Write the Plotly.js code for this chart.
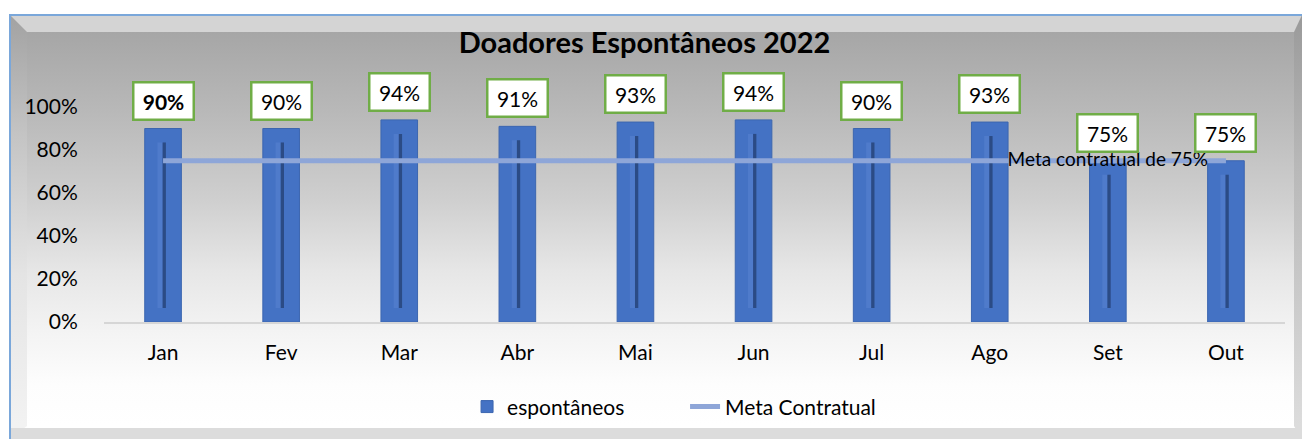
<!DOCTYPE html>
<html>
<head>
<meta charset="utf-8">
<script src="https://cdn.plot.ly/plotly-3.0.1.min.js"></script>
<style>
  html, body { margin: 0; padding: 0; background: #ffffff; }
  #wrap { position: relative; width: 1302px; height: 439px; overflow: hidden; }
  .fr { position: absolute; }
  #bg { left: 10px; top: 15px; width: 1292px; height: 424px;
        background: linear-gradient(to bottom, #a6a6a6 17px, #b8b8b8 95px, #cfcfcf 185px, #e6e6e6 255px, #f3f3f3 315px, #fdfdfd 370px, #ffffff 410px); }
  #bTop { left: 10px; top: 15px; width: 1292px; height: 17px; background: #d4d4d4; }
  #bLeft { left: 10px; top: 15px; width: 17px; height: 424px;
        background: linear-gradient(to bottom, #a2a2a2 0px, #c4c4c4 120px, #e4e4e4 260px, #f2f2f2 410px); 
        clip-path: polygon(0 0, 100% 17px, 100% 411px, 0 100%); }
  #bRight { left: 1294px; top: 15px; width: 8px; height: 424px;
        background: linear-gradient(to bottom, #9a9a9a 0px, #b8b8b8 150px, #dcdcdc 410px);
        clip-path: polygon(100% 0, 0 17px, 0 411px, 100% 100%); }
  #bBot { left: 10px; top: 428px; width: 1292px; height: 11px; background: #dcdcdc; }
  #lineTop { left: 10px; top: 14px; width: 1292px; height: 2px; background: #7aa7da; }
  #lineLeft { left: 9px; top: 14px; width: 2px; height: 425px; background: #7aa7da; }
  #chart { position: absolute; left: 0; top: 0; width: 1302px; height: 439px; }
</style>
</head>
<body>
<div id="wrap">
  <div class="fr" id="bg"></div>
  <div class="fr" id="bTop"></div>
  <div class="fr" id="bLeft"></div>
  <div class="fr" id="bRight"></div>
  <div class="fr" id="bBot"></div>
  <div class="fr" id="lineTop"></div>
  <div class="fr" id="lineLeft"></div>
  <div id="chart"></div>
</div>
<script>
const months = ['Jan', 'Fev', 'Mar', 'Abr', 'Mai', 'Jun', 'Jul', 'Ago', 'Set', 'Out'];
const espontaneos = [0.90, 0.90, 0.94, 0.91, 0.93, 0.94, 0.90, 0.93, 0.75, 0.75];
const metaContratual = [0.75, 0.75, 0.75, 0.75, 0.75, 0.75, 0.75, 0.75, 0.75, 0.75];
const metaLabel = ['', '', '', '', '', '', '', '', 'Meta contratual de 75%', ''];
const boldLabels = [true, false, false, false, false, false, false, false, false, false];
const yTicks = [0, 0.2, 0.4, 0.6, 0.8, 1.0];

const FONT = 'Lato, "Open Sans", sans-serif';
const BLUE = '#4472c4';

const bars = {
  type: 'bar', name: 'espontâneos', x: months, y: espontaneos, width: 0.31,
  marker: { color: BLUE, line: { color: '#3c66b0', width: 1 } },
  hoverinfo: 'x+y'
};
const grooveLight = {
  type: 'bar', x: months, y: espontaneos.map(v => v - 0.13), base: 0.065,
  width: 0.045, offset: -0.047, showlegend: false, hoverinfo: 'skip',
  marker: { color: '#4f7bcb', line: { width: 0 } }
};
const grooveDark = {
  type: 'bar', x: months, y: espontaneos.map(v => v - 0.13), base: 0.065,
  width: 0.028, offset: -0.004, showlegend: false, hoverinfo: 'skip',
  marker: { color: '#2b4b85', line: { width: 0 } }
};
const meta = {
  type: 'scatter', mode: 'lines+text', name: 'Meta Contratual', x: months, y: metaContratual,
  line: { color: '#8ea6d8', width: 5 },
  text: metaLabel, textposition: 'middle center',
  textfont: { family: FONT, size: 19, color: '#000000' },
  hoverinfo: 'x+y'
};

const annotations = months.map((m, i) => {
  const t = Math.round(espontaneos[i] * 100) + '%';
  return {
    x: m, y: espontaneos[i], xref: 'x', yref: 'y',
    text: boldLabels[i] ? '<b>' + t + '</b>' : t,
    showarrow: false, yanchor: 'bottom', yshift: 8,
    bgcolor: '#ffffff', bordercolor: '#70ad47', borderwidth: 2.5, borderpad: 2,
    width: 54, height: 31,
    font: { family: FONT, size: 21, color: '#000000' }
  };
});

const layout = {
  width: 1302, height: 439,
  margin: { l: 104, r: 17, t: 107, b: 117, pad: 0 },
  paper_bgcolor: 'rgba(0,0,0,0)', plot_bgcolor: 'rgba(0,0,0,0)',
  barmode: 'overlay',
  title: {
    text: '<b>Doadores Espontâneos 2022</b>',
    font: { family: FONT, size: 29, color: '#000000' },
    x: 0.495, xref: 'container', xanchor: 'center',
    y: 0.902, yref: 'container', yanchor: 'middle'
  },
  xaxis: {
    type: 'category', range: [-0.5, 9.5], showgrid: false, zeroline: false,
    showline: true, linecolor: '#d6d6d6', linewidth: 2,
    ticks: 'outside', ticklen: 11, tickcolor: 'rgba(0,0,0,0)',
    tickfont: { family: FONT, size: 21, color: '#000000' }
  },
  yaxis: {
    range: [0, 1.0], tickvals: yTicks, tickformat: '.0%',
    showgrid: false, zeroline: false, showline: false,
    ticks: 'outside', ticklen: 21, tickcolor: 'rgba(0,0,0,0)',
    tickfont: { family: FONT, size: 21, color: '#000000' }
  },
  showlegend: true,
  legend: {
    orientation: 'h', x: 0.492, xanchor: 'center', y: -0.395, yanchor: 'middle',
    bgcolor: 'rgba(0,0,0,0)', font: { family: FONT, size: 21, color: '#000000' },
    traceorder: 'normal', entrywidth: 173, entrywidthmode: 'pixels'
  },
  annotations: annotations
};

Plotly.newPlot('chart', [bars, grooveLight, grooveDark, meta], layout, { displayModeBar: false, staticPlot: true });
</script>
</body>
</html>
